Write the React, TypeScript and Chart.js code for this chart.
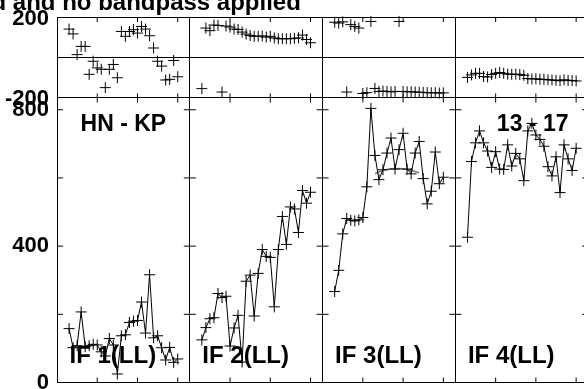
import React, { useEffect, useRef } from 'react';
import { Chart, registerables } from 'chart.js';

Chart.register(...registerables);

// ---------- data ----------
const CHANNELS = [3, 4, 5, 6, 7, 8, 9, 10, 11, 12, 13, 14, 15, 16, 17, 18, 19, 20, 21, 22, 23, 24, 25, 26, 27, 28, 29, 30];
const CHANNEL_SPAN = 33; // channel axis of one panel runs 0..33
const X_TICK_CHANNELS = [10, 20, 30];

const IF_LABELS = ['IF 1(LL)', 'IF 2(LL)', 'IF 3(LL)', 'IF 4(LL)'];
const TITLE = 'd and no bandpass applied';
const BASELINE_LABEL = 'HN - KP';
const TIME_LABEL = '13 - 17';

const PHASE_TICKS = [-200, 0, 200];
const PHASE_LABELS = [-200, 200];
const AMP_TICKS = [0, 200, 400, 600, 800];
const AMP_LABELS = [0, 400, 800];

const IF1_AMP = [158, 102, 108, 207, 105, 108, 112, 110, 90, 78, 129, 110, 25, 137, 140, 176, 180, 182, 236, 145, 316, 131, 137, 102, 66, 103, 59, 69];
const IF2_AMP = [125, 161, 187, 190, 261, 249, 253, 107, 160, 197, 60, 297, 315, 195, 320, 390, 370, 367, 222, 390, 487, 405, 515, 509, 440, 563, 526, 558];
const IF3_AMP = [267, 329, 436, 481, 476, 474, 477, 484, 574, 804, 666, 595, 624, 673, 717, 626, 683, 731, 626, 612, 673, 707, 598, 524, 561, 676, 583, 602];
const IF4_AMP = [426, 648, 703, 738, 703, 679, 631, 677, 626, 625, 697, 635, 672, 656, 592, 738, 760, 726, 713, 693, 633, 606, 662, 557, 697, 656, 622, 687];

const IF1_PHASE = [140, 116, 13, 54, 54, -85, -20, -53, -60, -151, -60, -36, -102, 128, 104, 128, 137, 120, 153, 140, 107, 46, -20, -44, -113, -110, -16, -97];
const IF2_PHASE = [-156, 145, 132, 160, 158, -173, 155, 150, 140, 138, 125, 115, 108, 104, 104, 106, 100, 104, 96, 92, 92, 92, 92, 94, 96, 110, 88, 72];
const IF3_PHASE = [174, 170, 176, -173, 162, 153, 145, -180, -176, 178, -155, -170, -168, -170, -172, -170, 178, -170, -172, -171, -173, -174, -175, -176, -177, -176, -178, -177];
const IF4_PHASE = [-100, -88, -80, -80, -96, -98, -86, -80, -76, -80, -84, -85, -84, -86, -90, -106, -108, -107, -110, -110, -112, -113, -115, -117, -112, -115, -116, -118];

const IF3_MODEL_CHANNELS = [13, 15, 17, 19, 21, 23, 24];
const IF3_MODEL = [613, 622, 627, 628, 625, 619, 615];

const AMPS = [IF1_AMP, IF2_AMP, IF3_AMP, IF4_AMP];
const PHASES = [IF1_PHASE, IF2_PHASE, IF3_PHASE, IF4_PHASE];

// ---------- styling ----------
const FONT = '"Liberation Sans", Arial, Helvetica, sans-serif';
const INK = '#000';

function buildDatasets() {
  const sets: any[] = [];
  AMPS.forEach((vals, p) => {
    sets.push({
      label: 'amp' + (p + 1),
      yAxisID: 'yAmp',
      data: CHANNELS.map((c, i) => ({ x: p * CHANNEL_SPAN + c, y: vals[i] })),
      showLine: true,
      borderColor: INK,
      borderWidth: 1,
      pointStyle: 'cross',
      pointRadius: 5.5,
      pointBorderColor: INK,
      pointBorderWidth: 1,
      tension: 0,
      clip: false,
    });
  });
  PHASES.forEach((vals, p) => {
    sets.push({
      label: 'phase' + (p + 1),
      yAxisID: 'yPhase',
      data: CHANNELS.map((c, i) => ({ x: p * CHANNEL_SPAN + c, y: vals[i] })),
      showLine: false,
      borderColor: INK,
      pointStyle: 'cross',
      pointRadius: 5.5,
      pointBorderColor: INK,
      pointBorderWidth: 1,
      clip: false,
    });
  });
  sets.push({
    label: 'model3',
    yAxisID: 'yAmp',
    data: IF3_MODEL_CHANNELS.map((c, i) => ({ x: 2 * CHANNEL_SPAN + c, y: IF3_MODEL[i] })),
    showLine: true,
    borderColor: '#777',
    borderWidth: 1.5,
    pointRadius: 0,
    cubicInterpolationMode: 'monotone',
  });
  return sets;
}

const panelTicks = {
  id: 'panelTicks',
  afterDatasetsDraw(chart: any) {
    const { ctx, scales } = chart;
    const x = scales.x, yp = scales.yPhase, ya = scales.yAmp;
    ctx.save();
    ctx.strokeStyle = INK;
    ctx.lineWidth = 1;
    ctx.beginPath();
    for (let p = 0; p < IF_LABELS.length; p++) {
      const l = x.getPixelForValue(p * CHANNEL_SPAN);
      const r = x.getPixelForValue((p + 1) * CHANNEL_SPAN);
      X_TICK_CHANNELS.forEach((c) => {
        const px = x.getPixelForValue(p * CHANNEL_SPAN + c);
        ctx.moveTo(px, yp.top); ctx.lineTo(px, yp.top + 5);
        ctx.moveTo(px, yp.bottom); ctx.lineTo(px, yp.bottom - 4);
        ctx.moveTo(px, ya.top); ctx.lineTo(px, ya.top + 5);
        ctx.moveTo(px, ya.bottom); ctx.lineTo(px, ya.bottom - 5);
      });
      AMP_TICKS.forEach((v) => {
        if (v === 0) return;
        const py = ya.getPixelForValue(v);
        ctx.moveTo(l, py); ctx.lineTo(l + 6, py);
        ctx.moveTo(r, py); ctx.lineTo(r - 6, py);
      });
    }
    ctx.stroke();
    ctx.restore();
  },
};

const textLabels = {
  id: 'textLabels',
  afterDraw(chart: any) {
    const { ctx, scales } = chart;
    const x = scales.x, ya = scales.yAmp;
    ctx.save();
    ctx.fillStyle = INK;
    ctx.textBaseline = 'alphabetic';
    ctx.font = 'bold 24px ' + FONT;
    ctx.textAlign = 'left';
    ctx.fillText(TITLE, -8.5, 9.5);
    IF_LABELS.forEach((t, p) => {
      ctx.fillText(t, x.getPixelForValue(p * CHANNEL_SPAN) + 12.5, ya.bottom - 20);
    });
    ctx.font = 'bold 23px ' + FONT;
    ctx.textAlign = 'center';
    ctx.fillText(BASELINE_LABEL, (x.getPixelForValue(0) + x.getPixelForValue(CHANNEL_SPAN)) / 2, ya.top + 34);
    ctx.fillText(TIME_LABEL, x.getPixelForValue(3 * CHANNEL_SPAN + 19.2), ya.top + 34);
    ctx.restore();
  },
};

const noPad = (s: any) => {
  s.paddingTop = 0;
  s.paddingBottom = 0;
  s.paddingLeft = 0;
  s.paddingRight = 0;
};

export default function App() {
  const ref = useRef<HTMLCanvasElement>(null);
  useEffect(() => {
    const tickFont = { family: FONT, size: 22, weight: 'bold' as const };
    const chart = new Chart(ref.current as HTMLCanvasElement, {
      type: 'scatter',
      data: { datasets: buildDatasets() },
      plugins: [panelTicks, textLabels],
      options: {
        animation: false,
        responsive: false,
        devicePixelRatio: 1,
        layout: { padding: { top: 17, bottom: 5.5, left: 0, right: 11.8 } },
        plugins: { legend: { display: false }, tooltip: { enabled: false }, title: { display: false } },
        scales: {
          x: {
            type: 'linear',
            min: 0,
            max: CHANNEL_SPAN * IF_LABELS.length,
            ticks: { display: false, stepSize: CHANNEL_SPAN },
            grid: { color: INK, lineWidth: 1, drawTicks: false },
            border: { display: false },
            afterFit: (s: any) => { s.height = 0; noPad(s); },
          },
          yPhase: {
            type: 'linear',
            position: 'left',
            stack: 'panels',
            stackWeight: 80.7,
            weight: 1,
            min: -200,
            max: 200,
            afterBuildTicks: (s: any) => { s.ticks = PHASE_TICKS.map((v) => ({ value: v })); },
            ticks: {
              font: tickFont,
              color: INK,
              padding: 8,
              autoSkip: false,
              labelOffset: 1.5,
              callback: (v: any) => (PHASE_LABELS.includes(Number(v)) ? String(v) : ''),
            },
            grid: { color: INK, lineWidth: 1, drawTicks: false },
            border: { display: false },
            afterFit: (s: any) => { s.width = 57; noPad(s); },
          },
          yAmp: {
            type: 'linear',
            position: 'left',
            stack: 'panels',
            stackWeight: 285.8,
            weight: 0,
            min: 0,
            max: 836,
            afterBuildTicks: (s: any) => { s.ticks = AMP_TICKS.map((v) => ({ value: v })); },
            ticks: {
              font: tickFont,
              color: INK,
              padding: 8,
              autoSkip: false,
              callback: (v: any) => (AMP_LABELS.includes(Number(v)) ? String(v) : ''),
            },
            grid: {
              color: (c: any) => (c.tick && c.tick.value === 0 ? INK : 'rgba(0,0,0,0)'),
              lineWidth: 1,
              drawTicks: false,
            },
            border: { display: false },
            afterFit: (s: any) => { s.width = 57; noPad(s); },
          },
        },
      } as any,
    });
    return () => chart.destroy();
  }, []);
  return (
    <div style={{ position: 'fixed', left: 0, top: 0, width: 584, height: 389, overflow: 'hidden', background: '#fff' }}>
      <canvas ref={ref} width={600} height={389} style={{ display: 'block', width: 600, height: 389 }} />
    </div>
  );
}
